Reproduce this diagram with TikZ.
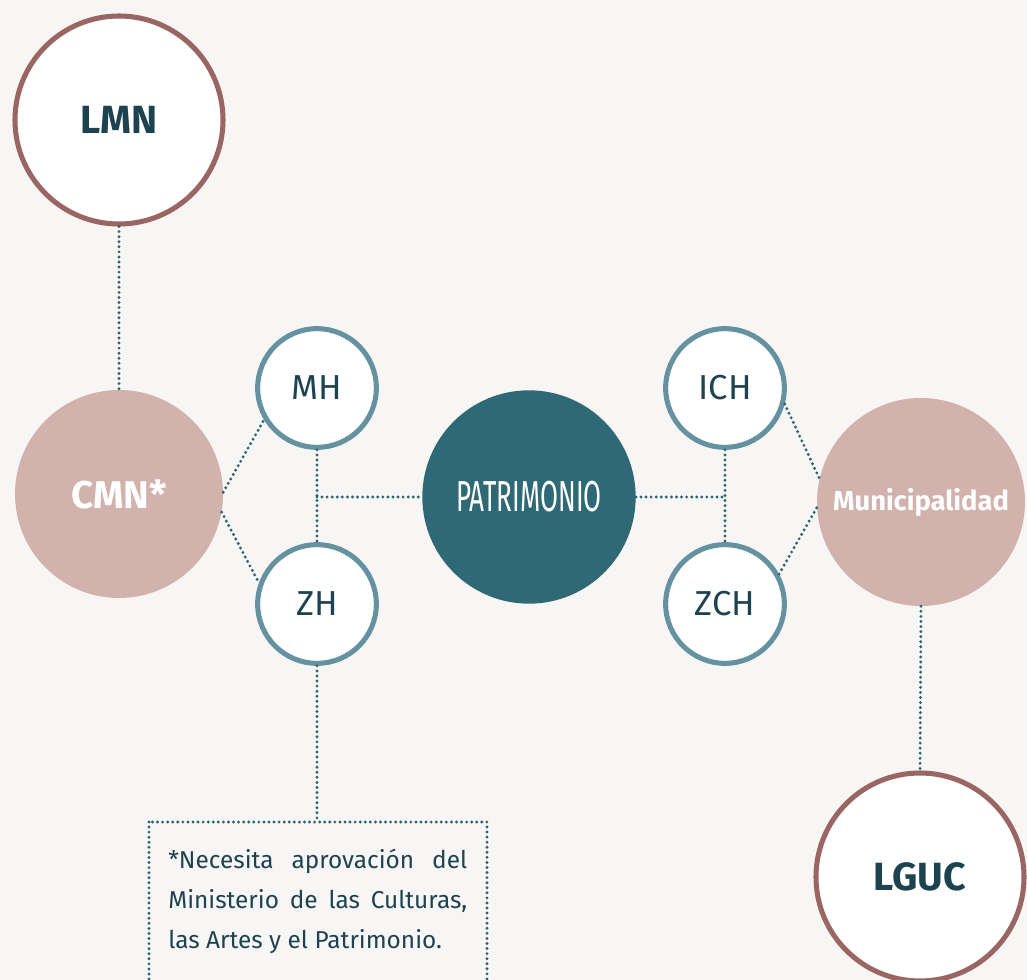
\documentclass[tikz,border=0pt]{standalone}
\usepackage{fontspec}
\setmainfont{Fira Sans}
\newfontfamily\lightfont{Fira Sans}
\newfontfamily\condfont[FakeStretch=0.6]{Fira Sans}
\definecolor{bgc}{HTML}{F8F6F4}
\definecolor{rosebrd}{HTML}{9A6663}
\definecolor{rosefill}{HTML}{D2B2AC}
\definecolor{tealbrd}{HTML}{6592A0}
\definecolor{tealfill}{HTML}{2E6975}
\definecolor{darktxt}{HTML}{1E4350}
\definecolor{dotc}{HTML}{2A6370}
\tikzset{
  lawcircle/.style={circle, draw=rosebrd, line width=3.8pt, fill=white, minimum size=156pt, inner sep=0pt,
    text=darktxt, font=\fontsize{29.5}{31}\selectfont\bfseries},
  orgcircle/.style={circle, fill=rosefill, minimum size=156pt, inner sep=0pt, text=white,
    font=\bfseries},
  smallcircle/.style={circle, draw=tealbrd, line width=3.8pt, fill=white, minimum size=89pt, inner sep=0pt,
    text=darktxt, font=\lightfont\fontsize{26}{28}\selectfont},
  maincircle/.style={circle, fill=tealfill, minimum size=160pt, inner sep=0pt, text=white,
    font=\condfont\fontsize{32.5}{34}\selectfont},
  dotline/.style={draw=dotc, line width=2.4pt, line cap=round, dash pattern=on 0pt off 3.8pt},
}
\begin{document}
\begin{tikzpicture}[x=0.75pt, y=-0.75pt]
\useasboundingbox (0,0) rectangle (1027,980);
\fill[bgc] (0,0) rectangle (1027,980);
\clip (0,0) rectangle (1027,980);

\node[lawcircle] (lmn) at (119,120) {LMN};
\node[orgcircle, font=\fontsize{29}{31}\selectfont\bfseries] (cmn) at (119,494) {CMN*};
\node[smallcircle] (mh) at (317,388) {MH};
\node[smallcircle] (zh) at (317,604) {ZH};
\node[maincircle] (pat) at (529,497) {PATRIMONIO};
\node[smallcircle] (ich) at (725,388) {ICH};
\node[smallcircle] (zch) at (725,604) {ZCH};
\node[orgcircle, font=\fontsize{20.5}{22}\selectfont\bfseries] (mun) at (921,502) {Municipalidad};
\node[lawcircle] (lguc) at (920,877) {LGUC};

\coordinate (jl) at (317,497);
\coordinate (jr) at (725,497);
\coordinate (notetop) at (317,822);

\draw[dotline] (lmn.south) -- (cmn.north);
\draw[dotline] (cmn.1) -- (mh.211);
\draw[dotline] (cmn.-10) -- (zh.160);
\draw[dotline] (mh.south) -- (zh.north);
\draw[dotline] (jl) -- (pat.west);
\draw[dotline] (pat.east) -- (jr);
\draw[dotline] (ich.south) -- (zch.north);
\draw[dotline] (ich.-15) -- (mun.167);
\draw[dotline] (zch.29) -- (mun.183);
\draw[dotline] (mun.south) -- (lguc.north);
\draw[dotline] (zh.south) -- (notetop);

\draw[dotline] (149,822) rectangle (487,1000);
\node[anchor=north west, inner sep=0pt, text width=224.25pt, align=justify, text=darktxt,
  font=\lightfont\fontsize{18.3}{30}\selectfont] (note) at (168,849)
  {*Necesita aprovación del\linebreak Ministerio de las Culturas,\linebreak las Artes y el Patrimonio.};
\end{tikzpicture}
\end{document}
